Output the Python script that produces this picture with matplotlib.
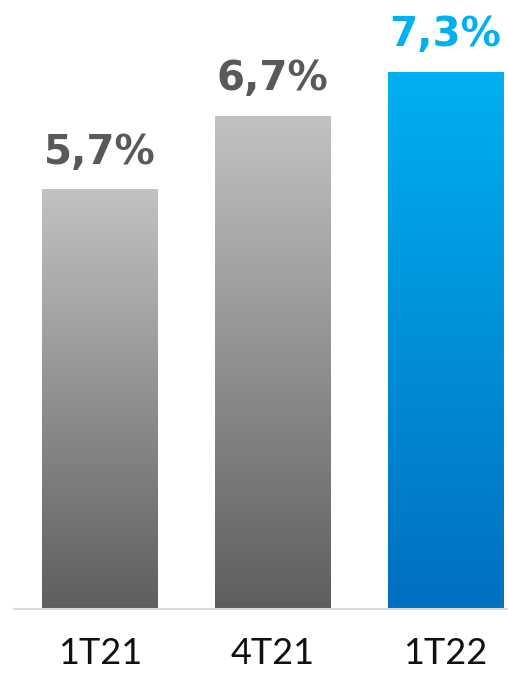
import numpy as np
import matplotlib.pyplot as plt
from matplotlib.colors import LinearSegmentedColormap

categories = ["1T21", "4T21", "1T22"]
values = [5.7, 6.7, 7.3]
value_labels = ["5,7%", "6,7%", "7,3%"]

gray_grad = LinearSegmentedColormap.from_list("gray_grad", ["#5e5e5e", "#c2c2c2"])
blue_grad = LinearSegmentedColormap.from_list("blue_grad", ["#0070c0", "#00b0f0"])
bar_cmaps = [gray_grad, gray_grad, blue_grad]
label_colors = ["#595959", "#595959", "#00b0f0"]

fig = plt.figure(figsize=(5.08, 6.73), dpi=100)
ax = fig.add_axes([14 / 508, 64 / 673, 494 / 508, 609 / 673])

x = np.arange(len(categories))
width = 0.67
bars = ax.bar(x, values, width=width, color="none", edgecolor="none")

# vertical gradient inside each bar, clipped to the bar rectangle
grad = np.linspace(0, 1, 256).reshape(-1, 1)
for bar, cmap in zip(bars, bar_cmaps):
    x0, w, h = bar.get_x(), bar.get_width(), bar.get_height()
    im = ax.imshow(grad, cmap=cmap, aspect="auto", origin="lower",
                   extent=(x0, x0 + w, 0, h), zorder=2)
    im.set_clip_path(bar)

for xi, v, lab, col in zip(x, values, value_labels, label_colors):
    ax.annotate(lab, (xi, v), xytext=(0, 12), textcoords="offset points",
                ha="center", va="bottom", fontsize=29, fontweight="heavy",
                color=col, family="DejaVu Sans")

ax.set_xlim(-86 / 172.75, 408 / 172.75)
ax.set_ylim(0, 609 / 73.6)
for side in ["top", "right", "left"]:
    ax.spines[side].set_visible(False)
ax.spines["bottom"].set_color("#d9d9d9")
ax.spines["bottom"].set_linewidth(1.5)
ax.set_yticks([])
ax.set_xticks(x)
ax.set_xticklabels(categories, fontsize=26, color="#111111", family="Lato")
ax.tick_params(axis="x", length=0, pad=20)

fig.savefig("out.png", dpi=100)
